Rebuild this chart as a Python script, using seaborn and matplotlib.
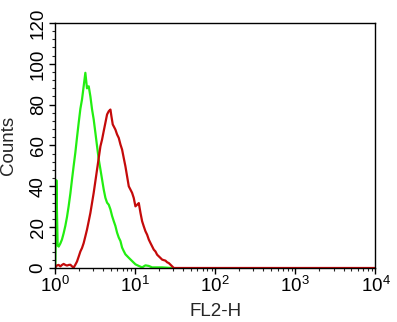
import numpy as np
import pandas as pd
import matplotlib
matplotlib.use("Agg")
import matplotlib.pyplot as plt
from matplotlib.ticker import FixedLocator, LogLocator, NullFormatter, FixedFormatter
import seaborn as sns

# FL2-H intensity, given as position in log10 decades, and event counts
green_decade = [0.0, 0.004, 0.017, 0.033, 0.046, 0.067, 0.0875, 0.108, 0.129, 0.15,
                0.171, 0.192, 0.2125, 0.233, 0.254, 0.275, 0.296, 0.317, 0.3375, 0.358,
                0.379, 0.3995, 0.421, 0.442, 0.4625, 0.483, 0.504, 0.525, 0.546, 0.567,
                0.5875, 0.608, 0.629, 0.65, 0.671, 0.692, 0.7125, 0.733, 0.754, 0.775,
                0.796, 0.817, 0.8375, 0.858, 0.879, 0.921, 0.9625, 1.004, 1.046, 1.0875,
                1.129, 1.171, 1.2125, 1.3375, 1.45]
green_counts = [0, 0, 43, 11, 10.5, 12, 14, 17, 20.6, 25,
                30.4, 36.5, 43.4, 50, 56.5, 64, 71.2, 78, 82.6, 89,
                95.6, 88, 89, 84, 77.7, 72.8, 66.3, 59.7, 53.2, 48.3,
                43.4, 38.5, 34.4, 32, 31, 28.7, 25.5, 23, 20.6, 17.3,
                14.9, 13.2, 10, 8.3, 6.7, 5, 3.4, 1.8, 1, 0.3,
                1.3, 1, 0.3, 0.3, 0]

red_decade = [0.004, 0.025, 0.046, 0.067, 0.0875, 0.108, 0.129, 0.15, 0.171, 0.192,
              0.2125, 0.233, 0.254, 0.275, 0.296, 0.317, 0.3375, 0.358, 0.379, 0.3995,
              0.421, 0.442, 0.4625, 0.483, 0.504, 0.525, 0.546, 0.567, 0.5875, 0.608,
              0.629, 0.65, 0.671, 0.692, 0.704, 0.721, 0.733, 0.754, 0.775, 0.796,
              0.817, 0.8375, 0.858, 0.879, 0.9, 0.921, 0.942, 0.9625, 0.983, 1.004,
              1.025, 1.046, 1.067, 1.0875, 1.108, 1.129, 1.15, 1.171, 1.192, 1.2125,
              1.233, 1.254, 1.275, 1.296, 1.317, 1.3375, 1.379, 1.4, 1.421, 1.442,
              1.4625, 1.483, 4.0]
red_counts = [0.3, 1.3, 1.5, 0.8, 1.5, 2, 1.5, 1.2, 1.5, 1.6,
              0.8, 0.2, 1.6, 3.2, 5.6, 8.1, 9.8, 12.2, 15.5, 18.8,
              22.9, 27, 31.9, 36.8, 42.5, 48.2, 53.9, 59.6, 62.9, 67,
              71.1, 75.2, 76.8, 77.6, 74.4, 70.3, 69.4, 67.8, 65.4, 63.7,
              60.5, 58, 53.9, 49.8, 44.9, 40, 38.4, 36.8, 34.3, 30.2,
              31, 31.8, 27, 22.9, 20.4, 18, 16.3, 13.9, 12.2, 10.6,
              9, 8.1, 6.5, 5.7, 4.9, 4.1, 3.6, 2.8, 2.4, 1.6,
              0.8, 0, 0]

x_ticks = [1, 10, 100, 1000, 10000]
x_tick_labels = [r"$10^0$", r"$10^1$", r"$10^2$", r"$10^3$", r"$10^4$"]
y_ticks = [0, 20, 40, 60, 80, 100, 120]

df = pd.concat([
    pd.DataFrame({"fl2": 10 ** np.array(green_decade), "counts": green_counts, "tube": "control"}),
    pd.DataFrame({"fl2": 10 ** np.array(red_decade), "counts": red_counts, "tube": "stained"}),
], ignore_index=True)

sns.set_style("ticks")
plt.rcParams["font.family"] = ["Liberation Sans", "DejaVu Sans"]
plt.rcParams["mathtext.fontset"] = "custom"
plt.rcParams["mathtext.rm"] = "Liberation Sans"
plt.rcParams["mathtext.it"] = "Liberation Sans"

fig = plt.figure(figsize=(3.97, 3.22), dpi=100)
ax = fig.add_axes([0.1385, 0.1677, 0.8073, 0.7609])

sns.lineplot(data=df, x="fl2", y="counts", hue="tube", hue_order=["control", "stained"],
             palette={"control": "#22ee11", "stained": "#c40a0a"},
             estimator=None, sort=False, linewidth=1.6, legend=False, ax=ax)

ax.set_xscale("log")
ax.set_xlim(1, 10000)
ax.set_ylim(0, 120)

ax.xaxis.set_major_locator(FixedLocator(x_ticks))
ax.xaxis.set_major_formatter(FixedFormatter(x_tick_labels))
ax.xaxis.set_minor_locator(LogLocator(base=10, subs=np.arange(2, 10)))
ax.xaxis.set_minor_formatter(NullFormatter())
ax.yaxis.set_major_locator(FixedLocator(y_ticks))
ax.yaxis.set_minor_locator(FixedLocator(np.arange(0, 121, 4)))

for side in ["top", "right", "left", "bottom"]:
    ax.spines[side].set_visible(True)
    ax.spines[side].set_linewidth(1.0)
    ax.spines[side].set_color("black")

ax.tick_params(axis="both", which="major", direction="out", length=4, width=1.0,
               labelsize=13.5, colors="black", pad=2)
ax.tick_params(axis="both", which="minor", direction="out", length=2.5, width=0.8)
ax.tick_params(axis="y", which="major", labelrotation=90)
for lab in ax.get_yticklabels():
    lab.set_va("center")

ax.set_xlabel("FL2-H", fontsize=13.5, labelpad=5)
ax.set_ylabel("Counts", fontsize=13.5, labelpad=9)

fig.savefig("out.png", dpi=100, facecolor="white")
